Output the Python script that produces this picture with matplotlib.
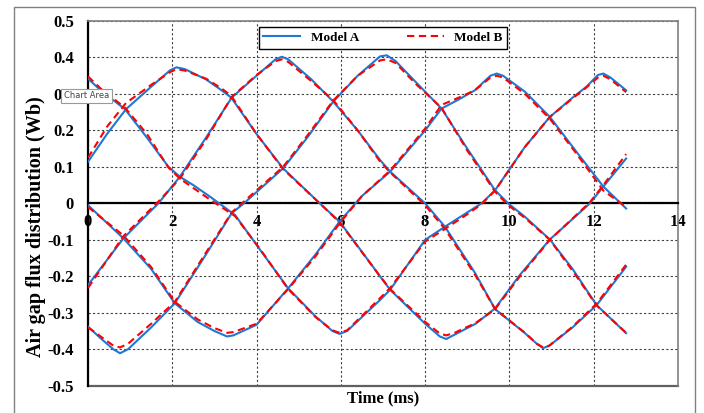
import numpy as np
import matplotlib
matplotlib.use("Agg")
import matplotlib.pyplot as plt
from matplotlib.patches import Rectangle

# Five flux waveforms, knots (time in ms, flux in Wb)
tA1 = [0, 0.45, 0.9, 1.5, 1.95, 2.1, 2.3, 2.8, 3.17, 3.4, 4.0, 4.63, 5.5, 5.97, 6.93, 7.17, 8.0, 8.35, 8.5, 8.7, 9.2, 9.66, 10.25, 10.96, 11.91, 12.23, 12.77]
vA1 = [0.114, 0.19, 0.258, 0.32, 0.365, 0.373, 0.368, 0.34, 0.31, 0.29, 0.19, 0.096, 0.0, -0.05, -0.20, -0.237, -0.33, -0.365, -0.372, -0.36, -0.33, -0.288, -0.196, -0.099, 0.0, 0.046, 0.123]
vB1 = [0.125, 0.21, 0.275, 0.325, 0.36, 0.368, 0.364, 0.342, 0.315, 0.295, 0.19, 0.094, 0.0, -0.052, -0.2, -0.235, -0.325, -0.357, -0.362, -0.355, -0.328, -0.29, -0.2, -0.1, 0.003, 0.05, 0.135]

tA2 = [0, 0.84, 1.67, 2.18, 2.8, 3.41, 4.0, 4.45, 4.6, 4.75, 5.3, 5.82, 6.4, 6.93, 7.17, 8.0, 8.47, 9.18, 9.66, 10.37, 10.65, 10.8, 10.95, 11.5, 12.07, 12.77]
vA2 = [-0.224, -0.096, 0.0, 0.073, 0.18, 0.29, 0.35, 0.395, 0.402, 0.395, 0.34, 0.279, 0.2, 0.119, 0.087, 0.0, -0.064, -0.19, -0.29, -0.356, -0.385, -0.397, -0.39, -0.34, -0.279, -0.174]
vB2 = [-0.232, -0.09, 0.005, 0.068, 0.175, 0.292, 0.352, 0.39, 0.395, 0.388, 0.335, 0.283, 0.2, 0.115, 0.085, -0.005, -0.07, -0.195, -0.29, -0.355, -0.385, -0.395, -0.39, -0.338, -0.275, -0.168]

tA3 = [0, 0.3, 0.6, 0.76, 0.95, 1.5, 2.06, 2.8, 3.41, 3.7, 4.63, 5.2, 5.82, 6.4, 6.93, 7.09, 7.3, 7.8, 8.39, 9.0, 9.66, 9.97, 10.37, 10.96, 11.5, 12.07, 12.77]
vA3 = [-0.338, -0.37, -0.40, -0.411, -0.40, -0.34, -0.274, -0.14, -0.027, 0.0, 0.096, 0.18, 0.279, 0.35, 0.403, 0.406, 0.39, 0.33, 0.26, 0.15, 0.036, 0.0, -0.037, -0.099, -0.18, -0.279, -0.356]
vB3 = [-0.34, -0.365, -0.39, -0.395, -0.385, -0.33, -0.27, -0.135, -0.025, 0.005, 0.1, 0.185, 0.282, 0.35, 0.392, 0.395, 0.385, 0.325, 0.262, 0.145, 0.032, -0.005, -0.04, -0.1, -0.185, -0.28, -0.355]

tA4 = [0, 0.84, 1.5, 2.06, 2.6, 3.0, 3.3, 3.45, 4.0, 4.75, 5.4, 5.97, 6.5, 7.17, 8.0, 8.39, 8.8, 9.18, 9.55, 9.7, 9.85, 10.37, 10.96, 11.6, 12.23, 12.77]
vA4 = [-0.005, -0.096, -0.18, -0.274, -0.325, -0.35, -0.365, -0.362, -0.333, -0.233, -0.14, -0.05, 0.02, 0.087, 0.2, 0.26, 0.285, 0.31, 0.35, 0.356, 0.35, 0.306, 0.237, 0.14, 0.046, -0.014]
vB4 = [-0.01, -0.088, -0.175, -0.27, -0.318, -0.342, -0.355, -0.353, -0.33, -0.235, -0.145, -0.055, 0.02, 0.09, 0.205, 0.27, 0.29, 0.31, 0.345, 0.35, 0.345, 0.3, 0.232, 0.135, 0.035, -0.01]

tA5 = [0, 0.3, 0.88, 1.4, 1.91, 2.18, 2.5, 2.9, 3.49, 4.1, 4.75, 5.4, 5.8, 5.97, 6.15, 6.93, 7.17, 8.0, 8.47, 9.0, 9.34, 9.66, 10.37, 10.96, 11.5, 11.83, 12.1, 12.23, 12.4, 12.77]
vA5 = [0.342, 0.31, 0.258, 0.18, 0.1, 0.073, 0.05, 0.018, -0.032, -0.13, -0.233, -0.31, -0.35, -0.358, -0.35, -0.265, -0.237, -0.1, -0.064, -0.025, 0.0, 0.036, 0.155, 0.237, 0.29, 0.32, 0.352, 0.356, 0.345, 0.31]
vB5 = [0.348, 0.315, 0.262, 0.19, 0.098, 0.068, 0.042, 0.01, -0.035, -0.128, -0.235, -0.312, -0.348, -0.355, -0.348, -0.26, -0.232, -0.105, -0.07, -0.03, -0.002, 0.035, 0.155, 0.237, 0.288, 0.318, 0.345, 0.35, 0.34, 0.305]

timesA = [tA1, tA2, tA3, tA4, tA5]
modelA = [vA1, vA2, vA3, vA4, vA5]
modelB = [vB1, vB2, vB3, vB4, vB5]

xticks = [0, 2, 4, 6, 8, 10, 12, 14]
yticks = [-0.5, -0.4, -0.3, -0.2, -0.1, 0, 0.1, 0.2, 0.3, 0.4, 0.5]
ytick_labels = ["-0.5", "-0.4", "-0.3", "-0.2", "-0.1", "0", "0.1", "0.2", "0.3", "0.4", "0.5"]

blue = "#1f78d4"
red = "#ff0000"

plt.rcParams["font.family"] = "Liberation Serif"
plt.rcParams["font.weight"] = "bold"

fig = plt.figure(figsize=(7.04, 4.13), dpi=100)
ax = fig.add_axes([0.125, 0.0661, 0.838, 0.883])

# outer chart-area border
fig.patches.append(Rectangle((14 / 704, -0.02), 681 / 704, 1 - 7 / 413 + 0.02,
                             transform=fig.transFigure, fill=False,
                             edgecolor="#808080", lw=1.0))

for i in range(5):
    ax.plot(timesA[i], modelA[i], color=blue, lw=1.5, zorder=3,
            label="Model A" if i == 0 else None)
    ax.plot(timesA[i], modelB[i], color=red, lw=1.5, ls=(0, (3.5, 2.2)), zorder=4,
            label="Model B" if i == 0 else None)

ax.set_xlim(0, 14)
ax.set_ylim(-0.5, 0.5)
ax.set_xticks(xticks)
ax.set_yticks(yticks)
ax.set_yticklabels(ytick_labels)
ax.grid(True, color="#404040", ls=(0, (2, 2)), lw=0.8)
ax.tick_params(axis="both", length=0, labelsize=12)
ax.tick_params(axis="y", pad=10)
ax.tick_params(axis="x", pad=8)

# x axis sits on the zero line, like the spreadsheet chart
ax.spines["bottom"].set_position(("data", 0))
ax.spines["bottom"].set_color("black")
ax.spines["bottom"].set_linewidth(1.6)
ax.spines["left"].set_color("black")
ax.spines["left"].set_linewidth(1.6)
for s in ["top", "right"]:
    ax.spines[s].set_color("#808080")
    ax.spines[s].set_linewidth(1.2)
ax.axhline(-0.5, color="#606060", lw=1.6, clip_on=False, zorder=2)

ax.set_xlabel("Time (ms)", fontsize=12, fontweight="bold")
ax.set_ylabel("Air gap flux distribution (Wb)", fontsize=14.5, fontweight="bold")
ax.xaxis.set_label_coords(0.5, -0.012)
ax.yaxis.set_label_coords(-0.072, 0.437)

leg = ax.legend(loc="upper center", bbox_to_anchor=(0.5, 0.9835), ncol=2,
                fancybox=False, edgecolor="black", framealpha=1,
                prop={"size": 9.5, "weight": "bold"}, handlelength=2.8,
                columnspacing=3.6, borderpad=0.35, borderaxespad=0)
leg.get_frame().set_linewidth(1.0)

# tooltip left over from the screenshot
fig.text(86.5 / 704, 1 - 95.5 / 413, "Chart Area", family="DejaVu Sans",
         fontweight="normal", fontsize=6.0, color="#444444", ha="center", va="center",
         bbox=dict(boxstyle="square,pad=0.3", fc="white", ec="#999999", lw=0.8),
         zorder=10)

fig.savefig("out.png", dpi=100)
